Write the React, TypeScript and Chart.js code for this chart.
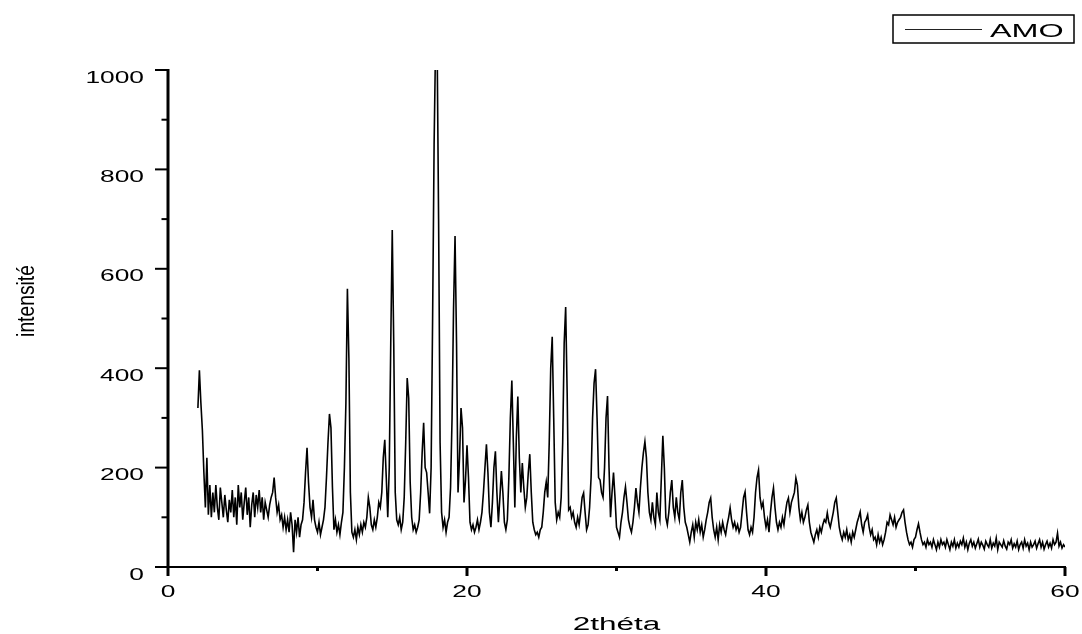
import React, { useEffect, useRef } from "react";
import { Chart, registerables } from "chart.js";

Chart.register(...registerables);

// 2θ sampling grid
const ANGLE_START = 2.0;
const ANGLE_STEP = 0.1;

// intensities, 2.0° – 11.9°
const intensity02to12 = [
  320, 396, 330, 275, 190, 120, 220, 105, 165, 100,
  150, 110, 165, 120, 95, 160, 130, 100, 145, 115,
  90, 135, 110, 155, 100, 140, 85, 165, 120, 150,
  95, 130, 160, 105, 140, 80, 125, 150, 100, 145,
  120, 155, 110, 140, 95, 130, 115, 100, 125, 140,
  150, 180, 140, 110, 125, 95, 105, 80, 100, 75,
  95, 70, 110, 85, 30, 95, 70, 100, 60, 85,
  95, 130, 190, 240, 170, 120, 100, 135, 95, 80,
  70, 90, 65, 80, 95, 120, 180, 250, 308, 280,
  160, 75, 95, 70, 85, 65, 90, 110, 200, 330,
];
// 12.0° – 21.9°
const intensity12to22 = [
  560, 420, 150, 70, 60, 75, 55, 80, 65, 85,
  70, 90, 80, 100, 140, 120, 85, 75, 95, 80,
  100, 130, 120, 150, 220, 256, 180, 100, 200, 450,
  678, 450, 150, 95, 85, 100, 75, 90, 140, 250,
  380, 340, 170, 100, 75, 85, 70, 80, 95, 150,
  230, 290, 200, 190, 150, 108, 200, 500, 850, 1060,
  1060, 700, 250, 110, 80, 95, 70, 90, 100, 160,
  300, 520, 666, 450, 150, 220, 320, 280, 130, 175,
  245, 180, 90, 75, 85, 70, 80, 95, 75, 90,
  110, 150, 200, 247, 190, 110, 80, 130, 200, 233,
];
// 22.0° – 31.9°
const intensity22to32 = [
  150, 90, 140, 193, 150, 90, 75, 95, 180, 300,
  375, 250, 120, 260, 343, 220, 150, 209, 160, 120,
  140, 190, 227, 150, 90, 75, 65, 70, 60, 75,
  80, 110, 150, 171, 140, 250, 400, 463, 300, 130,
  95, 110, 100, 140, 250, 450, 523, 350, 115, 120,
  100, 110, 90, 80, 100, 85, 110, 140, 149, 110,
  75, 85, 120, 180, 300, 370, 398, 300, 180, 175,
  150, 140, 200, 300, 344, 200, 100, 150, 190, 140,
  80, 70, 60, 90, 110, 140, 161, 130, 95, 80,
  70, 90, 120, 159, 130, 110, 160, 200, 230, 252,
];
// 32.0° – 41.9°
const intensity32to42 = [
  220, 150, 110, 95, 130, 100, 85, 150, 110, 95,
  180, 264, 200, 100, 85, 110, 150, 175, 120, 100,
  140, 110, 95, 150, 175, 120, 90, 80, 65, 50,
  70, 85, 60, 90, 75, 95, 70, 85, 60, 75,
  95, 110, 130, 139, 100, 75, 60, 80, 55, 85,
  70, 90, 75, 65, 85, 100, 119, 95, 80, 90,
  75, 85, 70, 80, 110, 140, 151, 110, 75, 65,
  80, 70, 100, 150, 180, 195, 140, 120, 130, 100,
  80, 95, 70, 110, 140, 159, 120, 90, 75, 90,
  80, 100, 85, 110, 130, 139, 110, 130, 140, 150,
];
// 42.0° – 51.9°
const intensity42to52 = [
  179, 165, 120, 95, 110, 90, 100, 115, 125, 90,
  70, 60, 50, 65, 75, 60, 80, 70, 85, 95,
  90, 109, 90, 80, 95, 110, 130, 139, 110, 80,
  65, 55, 70, 60, 75, 55, 65, 50, 70, 60,
  75, 90, 100, 111, 85, 70, 90, 95, 105, 80,
  65, 75, 55, 60, 45, 65, 50, 60, 45, 55,
  70, 90, 85, 105, 95, 85, 100, 80, 90, 95,
  100, 110, 115, 90, 70, 55, 45, 50, 40, 55,
  60, 75, 87, 70, 55, 45, 50, 40, 55, 45,
  50, 40, 55, 45, 35, 50, 40, 55, 45, 50,
];
// 52.0° – 60.0°
const intensity52to60 = [
  40, 55, 45, 35, 50, 42, 55, 38, 48, 40,
  52, 45, 58, 40, 50, 35, 48, 55, 42, 50,
  38, 47, 56, 40, 50, 44, 36, 52, 45, 40,
  55, 38, 48, 42, 58, 35, 50, 45, 40, 53,
  42, 36, 50, 45, 55, 38, 47, 40, 52, 35,
  45, 50, 38, 55, 42, 48, 35, 50, 40, 45,
  52, 38, 47, 55, 40, 50, 36, 45, 52, 40,
  48, 38, 55, 45, 50, 68, 42, 50, 38, 45,
  40,
];

const SERIES_LABEL = "AMO";
const X_TITLE = "2théta";
const Y_TITLE = "intensité";
const X_MAJOR = [0, 20, 40, 60];
const X_MINOR = [10, 30, 50];
const Y_MAJOR = [0, 200, 400, 600, 800, 1000];
const Y_MINOR = [100, 300, 500, 700, 900];

const allIntensity = [
  ...intensity02to12,
  ...intensity12to22,
  ...intensity22to32,
  ...intensity32to42,
  ...intensity42to52,
  ...intensity52to60,
];
const points = allIntensity.map((v, i) => ({
  x: Math.round((ANGLE_START + i * ANGLE_STEP) * 10) / 10,
  y: v,
}));

function stretchText(
  ctx: CanvasRenderingContext2D,
  text: string,
  x: number,
  y: number,
  sx: number,
  align: CanvasTextAlign
) {
  ctx.save();
  ctx.translate(x, y);
  ctx.scale(sx, 1);
  ctx.textAlign = align;
  ctx.textBaseline = "alphabetic";
  ctx.fillText(text, 0, 0);
  ctx.restore();
}

const decorPlugin = {
  id: "decor",
  afterDraw(chart: any) {
    const ctx: CanvasRenderingContext2D = chart.ctx;
    const xs = chart.scales.x;
    const ys = chart.scales.y;
    const area = chart.chartArea;
    const x0 = xs.getPixelForValue(0);
    const y0 = ys.getPixelForValue(0);
    ctx.save();
    ctx.strokeStyle = "#000";
    ctx.fillStyle = "#000";

    // axis lines
    ctx.lineWidth = 3;
    ctx.beginPath();
    ctx.moveTo(x0, ys.getPixelForValue(1000) - 1);
    ctx.lineTo(x0, y0);
    ctx.stroke();
    ctx.lineWidth = 2;
    ctx.beginPath();
    ctx.moveTo(x0, y0);
    ctx.lineTo(xs.getPixelForValue(60) + 1, y0);
    ctx.stroke();

    // y ticks
    ctx.lineWidth = 2;
    Y_MAJOR.forEach((v) => {
      const p = ys.getPixelForValue(v);
      ctx.beginPath();
      ctx.moveTo(x0 - 13, p);
      ctx.lineTo(x0, p);
      ctx.stroke();
    });
    Y_MINOR.forEach((v) => {
      const p = ys.getPixelForValue(v);
      ctx.beginPath();
      ctx.moveTo(x0 - 6.5, p);
      ctx.lineTo(x0, p);
      ctx.stroke();
    });
    // x ticks
    ctx.lineWidth = 3;
    X_MAJOR.forEach((v) => {
      const p = xs.getPixelForValue(v);
      ctx.beginPath();
      ctx.moveTo(p, y0);
      ctx.lineTo(p, y0 + 9);
      ctx.stroke();
    });
    X_MINOR.forEach((v) => {
      const p = xs.getPixelForValue(v);
      ctx.beginPath();
      ctx.moveTo(p, y0);
      ctx.lineTo(p, y0 + 4);
      ctx.stroke();
    });

    // tick labels
    ctx.font = "17px 'Liberation Sans', Arial, sans-serif";
    Y_MAJOR.forEach((v) => {
      const p = ys.getPixelForValue(v);
      stretchText(ctx, String(v), x0 - 24, p + 12.5, 1.55, "right");
    });
    X_MAJOR.forEach((v) => {
      const p = xs.getPixelForValue(v);
      stretchText(ctx, String(v), p, y0 + 30, 1.55, "center");
    });

    // axis titles
    ctx.font = "18px 'Liberation Sans', Arial, sans-serif";
    stretchText(ctx, X_TITLE, (area.left + area.right) / 2, 630, 1.75, "center");

    ctx.save();
    ctx.translate(34, 301);
    ctx.rotate(-Math.PI / 2);
    ctx.scale(1, 1.2);
    ctx.font = "19.3px 'Liberation Sans', Arial, sans-serif";
    ctx.textAlign = "center";
    ctx.textBaseline = "alphabetic";
    ctx.fillText(Y_TITLE, 0, 0);
    ctx.restore();

    // legend
    ctx.lineWidth = 1.5;
    ctx.strokeRect(893, 15, 181, 28);
    ctx.lineWidth = 1;
    ctx.strokeStyle = "#222";
    ctx.beginPath();
    ctx.moveTo(905, 29.5);
    ctx.lineTo(982, 29.5);
    ctx.stroke();
    ctx.font = "18.5px 'Liberation Sans', Arial, sans-serif";
    stretchText(ctx, SERIES_LABEL, 990, 36.7, 1.75, "left");

    ctx.restore();
  },
};

export default function App() {
  const canvasRef = useRef<HTMLCanvasElement | null>(null);

  useEffect(() => {
    const canvas = canvasRef.current;
    if (!canvas) return;
    const chart = new Chart(canvas, {
      type: "line",
      data: {
        datasets: [
          {
            label: SERIES_LABEL,
            data: points,
            borderColor: "#000",
            borderWidth: 1.6,
            pointRadius: 0,
            tension: 0,
            fill: false,
          },
        ],
      },
      options: {
        responsive: false,
        animation: false,
        events: [],
        layout: { padding: { left: 0, top: 70, right: 17, bottom: 0 } },
        plugins: {
          legend: { display: false },
          tooltip: { enabled: false },
        },
        scales: {
          x: {
            type: "linear",
            min: 0,
            max: 60,
            ticks: { display: false },
            grid: { display: false },
            border: { display: false },
            afterFit: (s: any) => {
              s.height = 67;
            },
          },
          y: {
            type: "linear",
            min: 0,
            max: 1000,
            ticks: { display: false },
            grid: { display: false },
            border: { display: false },
            afterFit: (s: any) => {
              s.width = 168;
            },
          },
        },
      },
      plugins: [decorPlugin],
    } as any);
    return () => chart.destroy();
  }, []);

  return (
    <div
      style={{
        position: "fixed",
        left: 0,
        top: 0,
        width: 1082,
        height: 634,
        background: "#fff",
      }}
    >
      <canvas ref={canvasRef} width={1082} height={634} />
    </div>
  );
}
